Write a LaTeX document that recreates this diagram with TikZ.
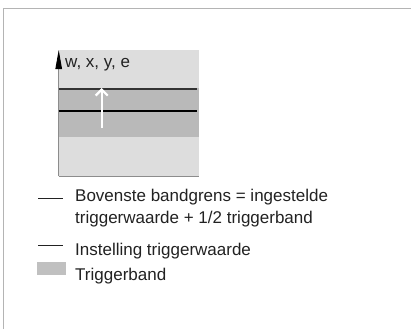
\documentclass[tikz,border=0pt]{standalone}
\usepackage{fontspec}
\setmainfont{Liberation Sans}
\usetikzlibrary{arrows.meta}
\definecolor{framegray}{HTML}{B4B4B4}
\definecolor{bglight}{HTML}{DDDDDD}
\definecolor{bandgray}{HTML}{B9B9B9}
\definecolor{axisgray}{HTML}{8C8C8C}
\definecolor{leggray}{HTML}{C0C0C0}
\definecolor{txtcol}{HTML}{222222}
\definecolor{uplcol}{HTML}{333333}
\begin{document}
\begin{tikzpicture}[x=1pt,y=-1pt,
  txt/.style={font=\fontsize{17}{22}\selectfont, inner sep=0pt, anchor=base west, text=txtcol, align=left},
  legline/.style={line width=1.4pt, txtcol},
  bandline/.style={line width=1.3pt}]
\useasboundingbox (0,0) rectangle (411,329);
\fill[white] (0,0) rectangle (411,329);
\draw[framegray, line width=0.9pt] (3.3,329) -- (3.3,8.3) -- (411,8.3);
% diagram area
\fill[bglight] (58.7,50) rectangle (198.7,176);
\fill[bandgray] (58.7,88) rectangle (198.7,137);
\coordinate (axisbot) at (58.7,176);
\coordinate (axistop) at (58.7,50);
\coordinate (boxbr) at (198.7,176);
\draw[axisgray, line width=0.9pt] (axisbot) -- (boxbr);
\draw[axisgray, line width=0.9pt, -{Triangle[length=19pt,width=6.5pt,color=black]}] (axisbot) -- (axistop);
\node[txt] (axislabel) at (65,67) {w, x, y, e};
\coordinate (uplL) at (58.7,89);
\coordinate (uplR) at (196.7,89);
\coordinate (midL) at (58.7,111);
\coordinate (midR) at (196.7,111);
\draw[bandline, uplcol] (uplL) -- (uplR);
\draw[bandline, black] (midL) -- (midR);
\coordinate (warrS) at (101.7,128);
\coordinate (warrE) at (101.7,88);
\draw[white, line width=2.2pt, -{Straight Barb[length=6pt,width=12pt]}] (warrS) -- (warrE);
% legend
\coordinate (l1a) at (38,198.3);
\coordinate (l1b) at (63,198.3);
\draw[legline] (l1a) -- (l1b);
\node[txt] (leg1) at (75,201.7) {Bovenste bandgrens = ingestelde};
\node[txt] (leg1b) at (75,223) {triggerwaarde + 1/2 triggerband};
\coordinate (l2a) at (38,245.7);
\coordinate (l2b) at (63,245.7);
\draw[legline] (l2a) -- (l2b);
\node[txt] (leg2) at (75,255) {Instelling triggerwaarde};
\fill[leggray] (37,262) rectangle (66,275);
\node[txt] (leg3) at (75,280) {Triggerband};
\end{tikzpicture}
\end{document}
